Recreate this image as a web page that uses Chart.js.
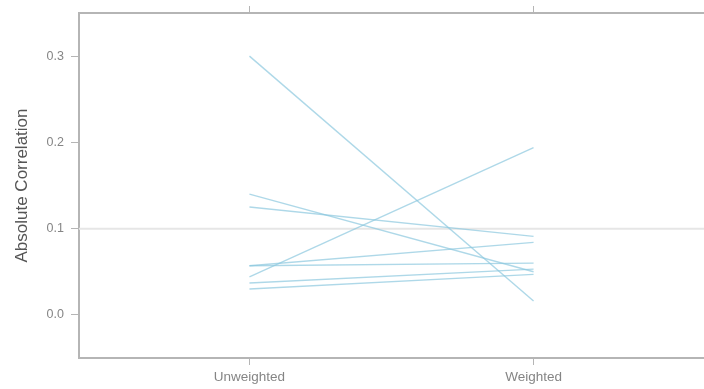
<!DOCTYPE html>
<html>
<head>
<meta charset="utf-8">
<script src="https://cdn.jsdelivr.net/npm/chart.js@4/dist/chart.umd.min.js"></script>
<style>
  html, body { margin: 0; padding: 0; background: #fff; }
  #wrap { width: 704px; height: 389px; }
</style>
</head>
<body>
<div id="wrap"><canvas id="chart" width="704" height="389"></canvas></div>
<script>
// one line per variable: absolute correlation before / after weighting
var categories = ['Unweighted', 'Weighted'];
var unweighted = [0.300, 0.140, 0.125, 0.057, 0.057, 0.044, 0.037, 0.030];
var weighted   = [0.016, 0.050, 0.091, 0.084, 0.060, 0.194, 0.053, 0.047];
var yTicks = [0.0, 0.1, 0.2, 0.3];
var refLine = 0.1;

var lineColor = 'rgba(140,200,222,0.7)';
var axisGray = '#b5b5b5';
var tickGray = '#858585';

var datasets = unweighted.map(function (u, i) {
  return {
    data: [{ x: 0, y: u }, { x: 1, y: weighted[i] }],
    borderColor: lineColor,
    borderWidth: 1.4,
    pointRadius: 0,
    fill: false,
    tension: 0
  };
});

var refLinePlugin = {
  id: 'refLine',
  beforeDatasetsDraw: function (chart) {
    var ctx = chart.ctx, area = chart.chartArea;
    var y = chart.scales.y.getPixelForValue(refLine);
    ctx.save();
    ctx.strokeStyle = '#e6e6e6';
    ctx.lineWidth = 2;
    ctx.beginPath();
    ctx.moveTo(area.left, y);
    ctx.lineTo(area.right, y);
    ctx.stroke();
    ctx.restore();
  }
};

function catTicks(scale) {
  scale.ticks = categories.map(function (_, i) { return { value: i }; });
}

new Chart(document.getElementById('chart'), {
  type: 'line',
  data: { datasets: datasets },
  plugins: [refLinePlugin],
  options: {
    responsive: false,
    animation: false,
    devicePixelRatio: 1,
    layout: { padding: 0 },
    plugins: { legend: { display: false }, tooltip: { enabled: false } },
    scales: {
      x: {
        type: 'linear',
        position: 'bottom',
        min: -0.6,
        max: 1.6,
        afterBuildTicks: catTicks,
        afterFit: function (s) { s.height = 31; s.paddingLeft = 0; s.paddingRight = 0; },
        border: { display: true, color: axisGray, width: 2 },
        grid: { drawOnChartArea: false, drawTicks: true, tickLength: 7, color: axisGray },
        ticks: {
          padding: 4,
          maxRotation: 0,
          color: tickGray,
          font: { family: 'Liberation Sans, Arial, sans-serif', size: 13.5 },
          callback: function (v) { return categories[v]; }
        }
      },
      x2: {
        type: 'linear',
        position: 'top',
        min: -0.6,
        max: 1.6,
        afterBuildTicks: catTicks,
        afterFit: function (s) { s.height = 13; },
        border: { display: true, color: axisGray, width: 2 },
        grid: { drawOnChartArea: false, drawTicks: true, tickLength: 7, color: axisGray },
        ticks: { callback: function () { return ''; }, padding: 0 }
      },
      y: {
        type: 'linear',
        position: 'left',
        min: -0.05,
        max: 0.35,
        afterBuildTicks: function (scale) {
          scale.ticks = yTicks.map(function (v) { return { value: v }; });
        },
        afterFit: function (s) { s.width = 79; s.paddingTop = 0; s.paddingBottom = 0; },
        border: { display: true, color: axisGray, width: 2 },
        grid: { drawOnChartArea: false, drawTicks: true, tickLength: 8, color: axisGray },
        ticks: {
          padding: 7,
          color: tickGray,
          font: { family: 'Liberation Sans, Arial, sans-serif', size: 12.5 },
          callback: function (v) { return v.toFixed(1); }
        },
        title: {
          display: true,
          text: 'Absolute Correlation',
          color: '#555555',
          padding: { top: 12, bottom: 0 },
          font: { family: 'Liberation Sans, Arial, sans-serif', size: 17 }
        }
      }
    }
  }
});
</script>
</body>
</html>
